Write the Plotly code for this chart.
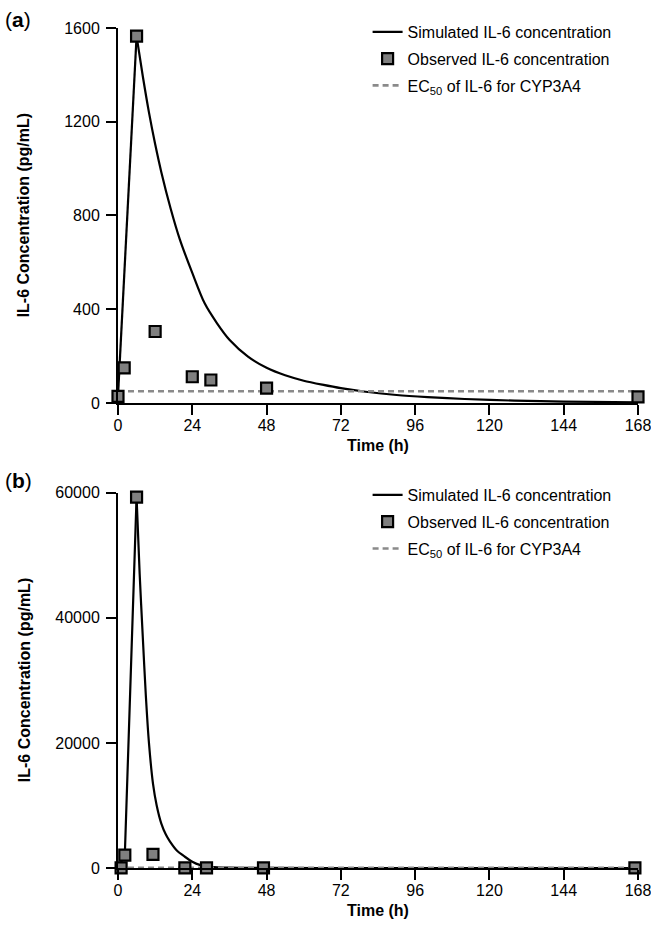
import plotly.graph_objects as go

# ---------------- data ----------------
time_ticks = [0, 24, 48, 72, 96, 120, 144, 168]

# Panel (a)
sim_time_a = [0, 6, 8, 10, 12, 14, 17, 20, 24, 28, 32, 36, 42, 48, 54, 60, 66, 72, 80, 90, 100, 112, 128, 144, 168]
sim_conc_a = [30, 1565, 1395, 1240, 1105, 985, 830, 697, 555, 425, 340, 270, 198, 150, 118, 95, 78, 63, 48, 34, 25, 17, 10, 6, 3]
obs_time_a = [0, 2, 6, 12, 24, 30, 48, 168]
obs_conc_a = [28, 150, 1565, 305, 112, 98, 63, 26]
y_ticks_a = [0, 400, 800, 1200, 1600]

# Panel (b)
sim_time_b = [0, 2.2, 6, 7, 8, 9, 10, 11.3, 12.5, 14, 15.5, 16.7, 19, 21.6, 24, 26.4, 30, 36, 48, 72, 168]
sim_conc_b = [0, 2050, 59300, 47000, 37000, 27500, 20000, 13500, 10000, 7100, 5300, 4300, 2800, 1800, 1000, 500, 200, 60, 10, 2, 0]
obs_time_b = [1, 2.2, 6, 11.3, 21.6, 28.6, 47, 167]
obs_conc_b = [30, 2050, 59300, 2190, 30, 30, 30, 30]
y_ticks_b = [0, 20000, 40000, 60000]

ec50 = 50  # pg/mL
ec50_time = [0, 168]

FONT = "Arial, Liberation Sans, sans-serif"
GRAY = "#7f7f7f"

fig = go.Figure()


def add_panel(xa, ya, leg, st, sc, ot, oc):
    k = sc.index(max(sc))  # index of the peak
    sim_line = dict(color="black", width=2.2)
    # rising limb (straight)
    fig.add_trace(go.Scatter(
        x=st[:k + 1], y=sc[:k + 1], mode="lines", name="Simulated IL-6 concentration",
        line=sim_line, xaxis=xa, yaxis=ya, legend=leg, legendgroup=leg + "1",
        legendrank=1, showlegend=True, cliponaxis=False))
    # declining limb (smooth)
    fig.add_trace(go.Scatter(
        x=st[k:], y=sc[k:], mode="lines", name="Simulated IL-6 concentration",
        line=dict(sim_line, shape="spline", smoothing=0.8), xaxis=xa, yaxis=ya,
        legend=leg, legendgroup=leg + "1", legendrank=1, showlegend=False,
        cliponaxis=False))
    fig.add_trace(go.Scatter(
        x=ec50_time, y=[ec50, ec50], mode="lines",
        name="EC<sub>50</sub> of IL-6 for CYP3A4",
        line=dict(color="#8a8a8a", width=2.6, dash="6px,4px"),
        xaxis=xa, yaxis=ya, legend=leg, legendgroup=leg + "3", legendrank=3,
        cliponaxis=False))
    fig.add_trace(go.Scatter(
        x=ot, y=oc, mode="markers", name="Observed IL-6 concentration",
        marker=dict(symbol="square", size=11, color=GRAY,
                    line=dict(color="black", width=2.2)),
        xaxis=xa, yaxis=ya, legend=leg, legendgroup=leg + "2", legendrank=2,
        cliponaxis=False))


add_panel("x", "y", "legend", sim_time_a, sim_conc_a, obs_time_a, obs_conc_a)
add_panel("x2", "y2", "legend2", sim_time_b, sim_conc_b, obs_time_b, obs_conc_b)

axis_common = dict(
    showline=True, linecolor="black", linewidth=2,
    ticks="outside", ticklen=10, tickwidth=2, tickcolor="black",
    showgrid=False, zeroline=False, ticklabeloverflow="allow",
    tickfont=dict(family=FONT, size=16, color="black"),
)

top_dom = [0.5536, 1.0]
bot_dom = [0.0, 0.4468]

legend_common = dict(
    xanchor="left", yanchor="top", traceorder="grouped", tracegroupgap=3,
    font=dict(family=FONT, size=16, color="black"), bgcolor="rgba(0,0,0,0)",
)

fig.update_layout(
    width=651, height=925,
    margin=dict(l=118, r=13, t=28, b=57, autoexpand=False),
    paper_bgcolor="white", plot_bgcolor="white",
    font=dict(family=FONT, size=16, color="black"),
    xaxis=dict(domain=[0, 1], range=[0, 168], tickvals=time_ticks, anchor="y",
               ticklabelstandoff=-3, **axis_common),
    yaxis=dict(domain=top_dom, range=[0, 1600], tickvals=y_ticks_a, tickformat="d",
               anchor="x", ticklabelstandoff=3, **axis_common),
    xaxis2=dict(domain=[0, 1], range=[0, 168], tickvals=time_ticks, anchor="y2",
                ticklabelstandoff=-3, **axis_common),
    yaxis2=dict(domain=bot_dom, range=[0, 60000], tickvals=y_ticks_b, tickformat="d",
                anchor="x2", ticklabelstandoff=3, **axis_common),
    legend=dict(x=0.48, y=1.0156, **legend_common),
    legend2=dict(x=0.48, y=0.4643, **legend_common),
    showlegend=True,
)

annos = [
    dict(text="(<b>a</b>)", x=-0.2212, y=1.0105, xref="paper", yref="paper",
         xanchor="left", yanchor="middle", showarrow=False, font=dict(size=21)),
    dict(text="(<b>b</b>)", x=-0.2212, y=0.4617, xref="paper", yref="paper",
         xanchor="left", yanchor="middle", showarrow=False, font=dict(size=21)),
    dict(text="<b>IL-6 Concentration (pg/mL)</b>", x=-0.181, y=(top_dom[0] + top_dom[1]) / 2,
         xref="paper", yref="paper", textangle=-90, xanchor="center", yanchor="middle",
         showarrow=False, font=dict(size=16)),
    dict(text="<b>IL-6 Concentration (pg/mL)</b>", x=-0.181, y=(bot_dom[0] + bot_dom[1]) / 2,
         xref="paper", yref="paper", textangle=-90, xanchor="center", yanchor="middle",
         showarrow=False, font=dict(size=16)),
    dict(text="<b>Time (h)</b>", x=0.5, y=top_dom[0], yshift=-43, xref="paper", yref="paper",
         xanchor="center", yanchor="middle", showarrow=False, font=dict(size=16)),
    dict(text="<b>Time (h)</b>", x=0.5, y=0, yshift=-42, xref="paper", yref="paper",
         xanchor="center", yanchor="middle", showarrow=False, font=dict(size=16)),
]
fig.update_layout(annotations=annos)

# remove the default page margin so the 651x925 figure fills the window exactly
fig.write_html(
    "out.html",
    config={"displayModeBar": False},
    post_script="document.body.style.margin='0';document.body.style.overflow='hidden';",
)
